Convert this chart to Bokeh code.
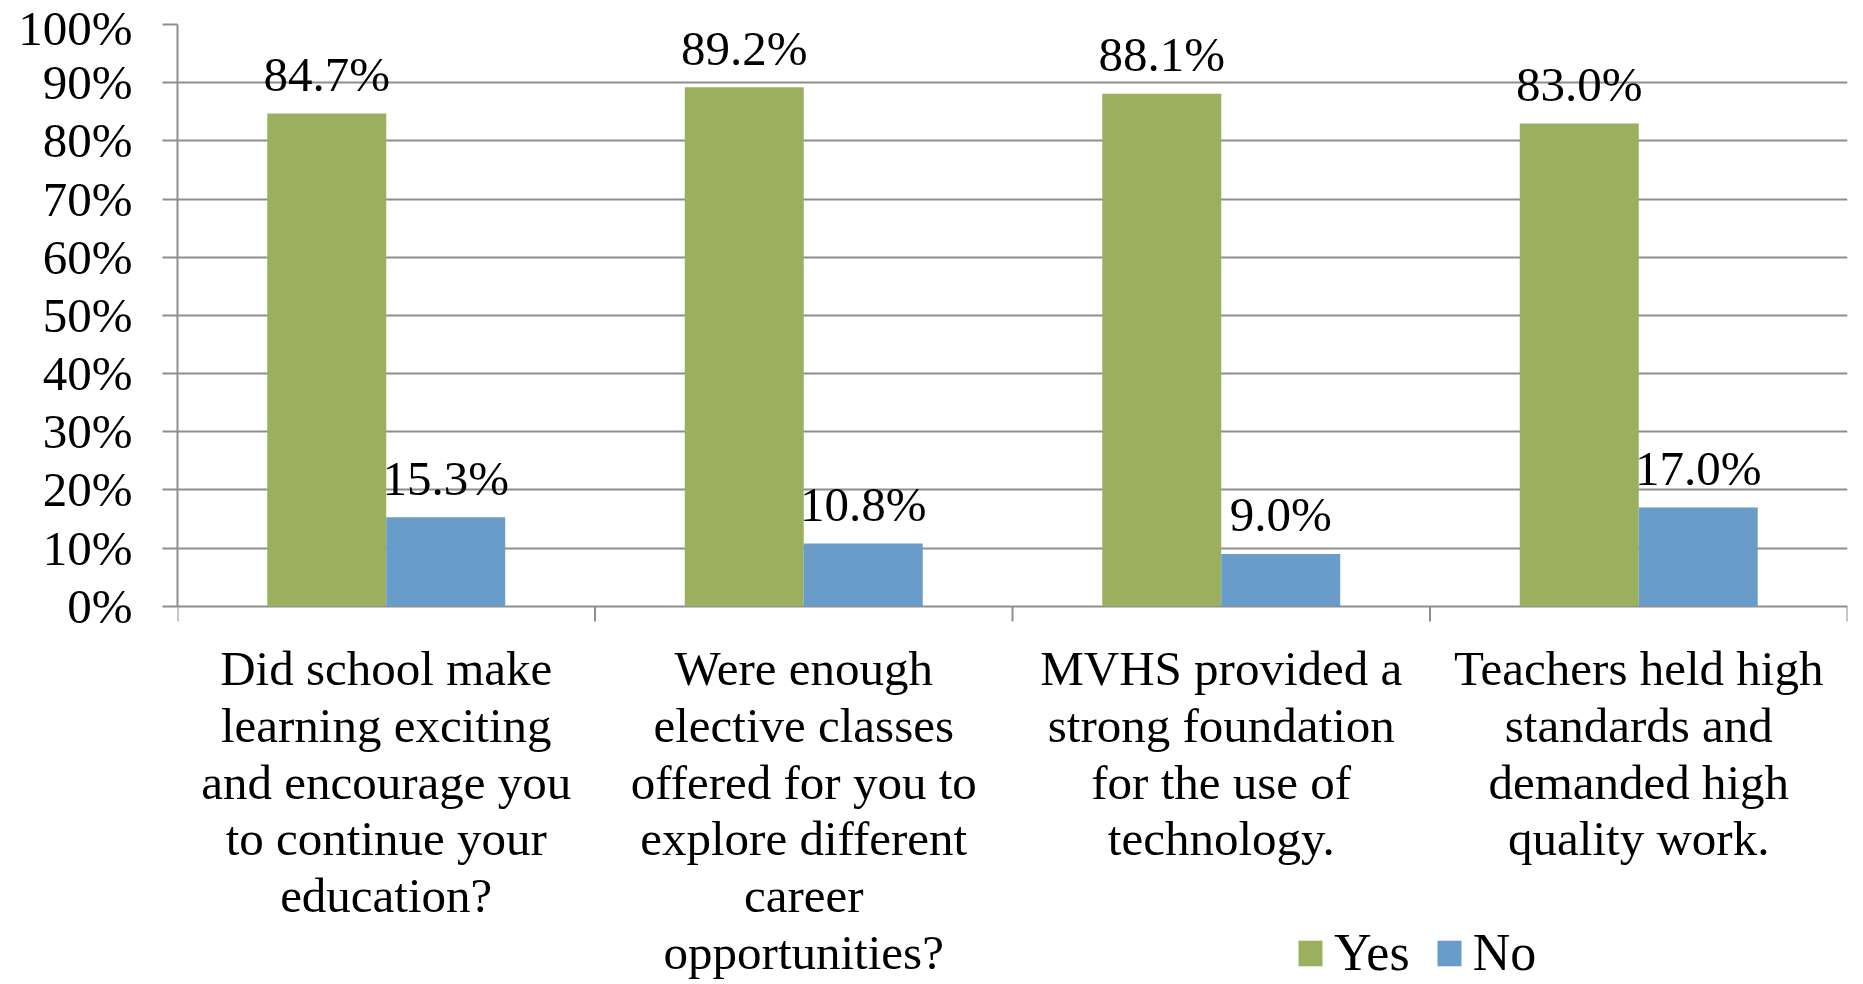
import numpy as np
from bokeh.plotting import figure
from bokeh.models import ColumnDataSource, FixedTicker, Range1d
from bokeh.transform import dodge
from bokeh.core.properties import value
from bokeh.embed import file_html
from bokeh.resources import INLINE

# ---- data ----
categories = [
    "Did school make\nlearning exciting\nand encourage you\nto continue your\neducation?",
    "Were enough\nelective classes\noffered for you to\nexplore different\ncareer\nopportunities?",
    "MVHS provided a\nstrong foundation\nfor the use of\ntechnology.",
    "Teachers held high\nstandards and\ndemanded high\nquality work.",
]
series_names = ["Yes", "No"]
yes_values = [84.7, 89.2, 88.1, 83.0]
no_values = [15.3, 10.8, 9.0, 17.0]
y_tick_values = [0, 10, 20, 30, 40, 50, 60, 70, 80, 90, 100]
y_tick_labels = ["0%", "10%", "20%", "30%", "40%", "50%", "60%", "70%", "80%", "90%", "100%"]

# ---- style ----
FONT = "Liberation Serif"
GREEN = "#9BB05E"
BLUE = "#699CC8"
GRAY = "#8E8E8E"
FS = "49px"
BAR_W = 0.285
OFF = BAR_W / 2
Y_BOTTOM = -65.0      # room below the 0% line for the category labels
TICK_LEN = 2.6        # boundary tick length (data units, ~15px)

n = len(categories)
centers = np.arange(n) + 0.5
bounds_x = np.arange(n + 1)

src = ColumnDataSource(dict(
    x=centers,
    yes=yes_values,
    no=no_values,
    yes_lbl=[f"{v:.1f}%" for v in yes_values],
    no_lbl=[f"{v:.1f}%" for v in no_values],
    cat=categories,
    zero=[0] * n,
))

p = figure(width=1863, height=984,
           x_range=Range1d(0, n), y_range=Range1d(Y_BOTTOM, 100),
           output_backend="svg", toolbar_location=None,
           x_axis_location=None,
           min_border_left=177, min_border_right=16,
           min_border_top=24, min_border_bottom=0)

p.vbar(x=dodge("x", -OFF), top="yes", bottom=0, width=BAR_W, source=src,
       fill_color=GREEN, line_color=None, legend_label=series_names[0])
p.vbar(x=dodge("x", OFF), top="no", bottom=0, width=BAR_W, source=src,
       fill_color=BLUE, line_color=None, legend_label=series_names[1])

# value labels
p.text(x=dodge("x", -OFF), y="yes", text="yes_lbl", source=src,
       text_align="center", text_baseline="alphabetic", y_offset=-39,
       text_font=value(FONT), text_font_size=FS, text_color="black")
p.text(x=dodge("x", OFF), y="no", text="no_lbl", source=src,
       text_align="center", text_baseline="alphabetic", y_offset=-39,
       text_font=value(FONT), text_font_size=FS, text_color="black")

# category labels under the 0% line
p.text(x="x", y="zero", text="cat", source=src,
       text_align="center", text_baseline="top", y_offset=35,
       text_font=value(FONT), text_font_size=FS, text_color="black",
       text_line_height=1.03)

# category boundary ticks
p.segment(x0=bounds_x, y0=[0] * (n + 1), x1=bounds_x, y1=[-TICK_LEN] * (n + 1),
          line_color=GRAY, line_width=2)

ya = p.yaxis[0]
ya.ticker = FixedTicker(ticks=y_tick_values, minor_ticks=[])
ya.bounds = (0, 100)
ya.major_label_overrides = {t: l for t, l in zip(y_tick_values, y_tick_labels)}
ya.major_tick_out = 15
ya.major_tick_in = 0
ya.major_tick_line_color = GRAY
ya.major_tick_line_width = 2
ya.minor_tick_out = 0
ya.minor_tick_in = 0
ya.axis_line_color = GRAY
ya.axis_line_width = 2
ya.major_label_standoff = 30
ya.major_label_text_font = FONT
ya.major_label_text_font_size = FS
ya.major_label_text_color = "black"

p.xgrid.visible = False
p.ygrid.grid_line_color = GRAY
p.ygrid.grid_line_width = 2
p.outline_line_color = None

lg = p.legend[0]
lg.location = (1118, 2)
lg.orientation = "horizontal"
lg.label_text_font = FONT
lg.label_text_font_size = "52px"
lg.label_text_color = "black"
lg.glyph_width = 30
lg.glyph_height = 32
lg.label_standoff = 9
lg.spacing = 24
lg.padding = 0
lg.margin = 0
lg.border_line_color = None
lg.background_fill_alpha = 0

open("out.html", "w").write(file_html(p, INLINE))
